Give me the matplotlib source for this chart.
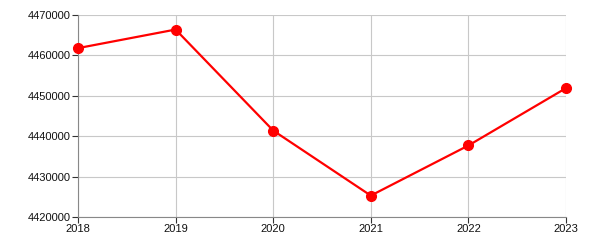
import matplotlib
matplotlib.use("Agg")
import matplotlib.pyplot as plt
from matplotlib.ticker import MultipleLocator, FuncFormatter

plt.rcParams['font.family'] = ['Liberation Sans', 'DejaVu Sans']

years = [2018, 2019, 2020, 2021, 2022, 2023]
values = [4461800, 4466400, 4441400, 4425300, 4437700, 4451900]

fig = plt.figure(figsize=(6, 2.5), dpi=100)
ax = fig.add_axes([78 / 600, 1 - 217 / 250, (566 - 78) / 600, (217 - 15) / 250])

ax.plot(years, values, color='#ff0000', linewidth=1.6, marker='o',
        markersize=7, zorder=3, clip_on=False)

ax.set_xlim(2018, 2023)
ax.set_ylim(4420000, 4470000)
ax.set_xticks(years)
ax.yaxis.set_major_locator(MultipleLocator(10000))
ax.yaxis.set_major_formatter(FuncFormatter(lambda v, p: '%d' % v))

ax.grid(True, color='#c8c8c8', linewidth=0.8)
ax.set_axisbelow(True)
for side in ['top', 'right']:
    ax.spines[side].set_visible(False)
for side in ['left', 'bottom']:
    ax.spines[side].set_color('#888888')
    ax.spines[side].set_linewidth(0.8)

ax.tick_params(axis='both', length=4, width=0.8, color='#333333',
               labelsize=8, labelcolor='#111111', pad=1)

fig.savefig('out.png', dpi=100)
